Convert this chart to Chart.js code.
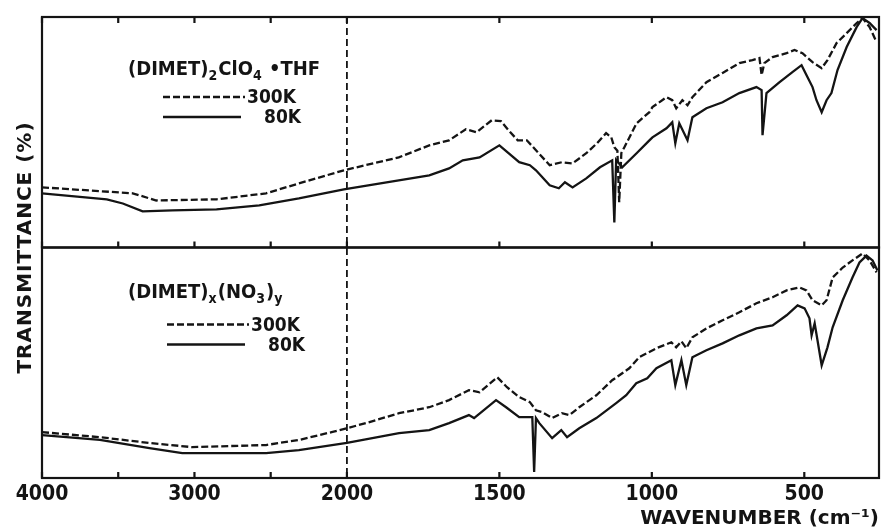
<!DOCTYPE html>
<html>
<head>
<meta charset="utf-8">
<script src="https://cdn.jsdelivr.net/npm/chart.js@4.4.1/dist/chart.umd.min.js"></script>
<style>
  html, body { margin: 0; padding: 0; background: #fff; }
  #wrap { width: 881px; height: 528px; }
</style>
</head>
<body>
<div id="wrap"><canvas id="irChart" width="881" height="528"></canvas></div>
<script>
// (DIMET)2ClO4 . THF  -- wavenumber (cm-1) / transmittance (arb., 0-100 per panel)
const topWave300 = [4000, 3405, 3250, 2855, 2530, 2315, 2020, 1830, 1730, 1665, 1610, 1575, 1525, 1495, 1470, 1440, 1410, 1380, 1335, 1295, 1260, 1215, 1180, 1150, 1133, 1123, 1113, 1107, 1100, 1090, 1050, 1008, 998, 952, 933, 920, 900, 883, 867, 821, 768, 713, 670, 647, 640, 631, 604, 558, 532, 506, 473, 443, 424, 394, 361, 328, 309, 286, 263];
const topT300 = [26.1, 23.5, 20.4, 20.9, 23.5, 27.8, 33.5, 39.1, 44.3, 46.5, 51.3, 50.0, 55.2, 54.8, 50.9, 46.5, 46.5, 42.2, 35.7, 37.0, 36.5, 40.9, 45.2, 49.6, 47.8, 43.5, 42, 19.6, 41, 43.5, 53.9, 58.7, 60.9, 65.2, 63.9, 60.4, 63.9, 61.7, 65.2, 71.7, 75.7, 80.0, 81.3, 82.2, 74.8, 80.0, 82.6, 84.3, 85.7, 84.3, 80.4, 77.8, 81.3, 88.7, 93.0, 97.4, 99.5, 95.7, 89.1];

const topWave80 = [4000, 3575, 3470, 3340, 3145, 2855, 2575, 2315, 2020, 1830, 1730, 1665, 1620, 1565, 1500, 1470, 1435, 1400, 1380, 1335, 1305, 1285, 1260, 1215, 1170, 1130, 1123, 1117, 1097, 1050, 1008, 998, 952, 933, 923, 910, 883, 867, 821, 768, 713, 657, 640, 637, 624, 581, 539, 509, 493, 473, 460, 443, 427, 411, 391, 361, 328, 309, 286, 263];
const topT80 = [23.5, 20.9, 19.1, 15.7, 16.1, 16.5, 18.3, 21.3, 25.2, 29.1, 31.3, 34.3, 37.8, 39.1, 44.3, 40.9, 37.0, 35.7, 33.5, 27.0, 25.7, 28.3, 26.1, 30.0, 34.8, 37.8, 10.9, 38, 34.8, 40.9, 46.5, 47.8, 51.7, 54.3, 45.2, 53.9, 46.5, 56.5, 60.4, 63.0, 67.0, 69.6, 68.3, 48.7, 67.0, 71.7, 76.1, 79.1, 74.8, 69.6, 63.9, 58.7, 63.9, 67.0, 77.0, 87.0, 95.7, 99.5, 97.4, 94.3];

// (DIMET)x(NO3)y
const botWave300 = [4000, 3620, 3295, 3015, 2530, 2315, 2100, 2000, 1938, 1829, 1730, 1665, 1600, 1565, 1507, 1475, 1435, 1400, 1380, 1360, 1327, 1295, 1270, 1238, 1182, 1130, 1074, 1041, 985, 936, 920, 903, 887, 867, 821, 768, 713, 657, 604, 558, 516, 493, 473, 443, 427, 407, 374, 342, 309, 286, 263];
const botT300 = [19.9, 17.7, 15.2, 13.4, 14.3, 16.5, 19.9, 21.6, 23.8, 28.1, 30.7, 33.8, 38.1, 37.2, 43.7, 39.4, 35.1, 32.9, 29.4, 28.6, 26.0, 28.1, 27.3, 30.7, 35.9, 42.4, 47.6, 52.4, 56.3, 58.9, 56.7, 59.3, 56.3, 61.0, 64.9, 68.4, 71.9, 75.8, 78.4, 81.4, 82.7, 81.4, 77.1, 74.9, 77.1, 87.0, 91.3, 94.4, 97.4, 94.4, 89.2];

const botWave80 = [4000, 3620, 3295, 3080, 2530, 2315, 2000, 1829, 1730, 1665, 1600, 1583, 1511, 1478, 1435, 1392, 1386, 1380, 1369, 1327, 1297, 1278, 1238, 1182, 1117, 1084, 1051, 1015, 985, 936, 923, 903, 887, 867, 821, 768, 713, 657, 604, 558, 522, 499, 483, 476, 466, 443, 424, 407, 374, 342, 319, 296, 276, 260];
const botT80 = [18.6, 16.5, 13.0, 10.8, 10.8, 12.1, 15.2, 19.5, 20.8, 23.8, 27.3, 26.0, 33.8, 30.7, 26.4, 26.4, 2.6, 26.0, 23.8, 17.3, 20.8, 17.7, 21.6, 26.0, 32.5, 35.9, 41.1, 43.3, 47.6, 51.1, 40.3, 51.1, 40.3, 52.4, 55.4, 58.4, 61.9, 64.9, 66.2, 70.6, 74.9, 73.6, 69.3, 61.9, 67.1, 48.9, 56.7, 65.4, 77.1, 87.0, 93.5, 96.5, 94.4, 90.0];

const tickLabels = [4000, 3000, 2000, 1500, 1000, 500];
const minorTicks = [3500, 2500];
const breakWave = 2000; // spectrum scale doubles below 2000 cm-1
const lastWave = 255;

const ink = "#141414";
const narrow = "'DejaVu Sans Condensed', 'DejaVu Sans', sans-serif";
const wide = "'DejaVu Sans', sans-serif";

// wavenumber <-> position on the (piecewise) axis
const toPos = (w) => (w >= breakWave ? (4000 - w) / 2 : 1000 + (breakWave - w));
const toWave = (p) => (p <= 1000 ? 4000 - p * 2 : breakWave - (p - 1000));
const pts = (waves, vals) => waves.map((w, i) => ({ x: toPos(w), y: vals[i] }));

const line = (label, data, axis, dashed) => ({
  label,
  data,
  yAxisID: axis,
  borderColor: ink,
  borderWidth: 2.3,
  borderDash: dashed ? [7, 3] : [],
  pointRadius: 0,
  tension: 0,
  fill: false,
});

// text with sub-scripts, runs like ["(DIMET)", ["2"], "ClO"]
const drawRuns = (ctx, x, y, runs, size) => {
  runs.forEach((r) => {
    const sub = Array.isArray(r);
    const t = sub ? r[0] : r;
    ctx.font = `bold ${sub ? Math.round(size * 0.72) : size}px ${narrow}`;
    ctx.fillText(t, x, sub ? y + 5 : y);
    x += ctx.measureText(t).width + (sub ? 1 : 0);
  });
};

const legendRows = (ctx, left, y, size) => {
  ctx.lineWidth = 2.3;
  ctx.setLineDash([7, 3]);
  ctx.beginPath(); ctx.moveTo(left, y); ctx.lineTo(left + 82, y); ctx.stroke();
  ctx.setLineDash([]);
  ctx.beginPath(); ctx.moveTo(left, y + 20); ctx.lineTo(left + 78, y + 20); ctx.stroke();
  ctx.font = `bold ${size}px ${narrow}`;
  ctx.fillText("300K", left + 84, y + 6);
  ctx.fillText("80K", left + 101, y + 26);
};

const panelFrame = {
  id: "panelFrame",
  afterDatasetsDraw(chart) {
    const { ctx, chartArea: { left, right } } = chart;
    const xs = chart.scales.x;
    const top = chart.scales.yTop;
    const bot = chart.scales.yBottom;
    ctx.save();
    ctx.strokeStyle = ink;
    ctx.fillStyle = ink;
    ctx.lineWidth = 2.2;
    [top, bot].forEach((p) => ctx.strokeRect(left, p.top, right - left, p.bottom - p.top));

    // inward tick marks
    ctx.beginPath();
    xs.ticks.forEach((t) => {
      const px = xs.getPixelForValue(t.value);
      ctx.moveTo(px, top.top); ctx.lineTo(px, top.top + 6);
      ctx.moveTo(px, top.bottom); ctx.lineTo(px, top.bottom - 6);
      ctx.moveTo(px, bot.bottom); ctx.lineTo(px, bot.bottom - 6);
    });
    ctx.stroke();

    // scale change marker at 2000
    const xb = xs.getPixelForValue(toPos(breakWave));
    ctx.setLineDash([7, 4]);
    ctx.lineWidth = 1.8;
    ctx.beginPath(); ctx.moveTo(xb, top.top); ctx.lineTo(xb, bot.bottom); ctx.stroke();
    ctx.setLineDash([]);

    // y title
    ctx.save();
    ctx.translate(26, (top.top + bot.bottom) / 2);
    ctx.rotate(-Math.PI / 2);
    ctx.textAlign = "center";
    ctx.textBaseline = "middle";
    ctx.font = `bold 20px ${wide}`;
    ctx.letterSpacing = "1px";
    ctx.fillText("TRANSMITTANCE (%)", 0, 0);
    ctx.restore();

    // panel captions
    ctx.textBaseline = "alphabetic";
    drawRuns(ctx, 128, top.top + 58, ["(DIMET)", ["2"], "ClO", ["4"], " \u2022THF"], 20);
    legendRows(ctx, 163, top.top + 80, 19);
    drawRuns(ctx, 128, bot.top + 50, ["(DIMET)", ["x"], "(NO", ["3"], ")", ["y"]], 20);
    legendRows(ctx, 167, bot.top + 77, 19);
    ctx.restore();
  },
};

const hiddenY = {
  type: "linear",
  position: "left",
  stack: "panels",
  stackWeight: 1,
  min: 0,
  max: 100,
  ticks: { display: false },
  grid: { display: false },
  border: { display: false },
  afterFit: (s) => { s.width = 0; },
};

new Chart(document.getElementById("irChart"), {
  type: "line",
  data: {
    datasets: [
      line("300K", pts(topWave300, topT300), "yTop", true),
      line("80K", pts(topWave80, topT80), "yTop", false),
      line("300K", pts(botWave300, botT300), "yBottom", true),
      line("80K", pts(botWave80, botT80), "yBottom", false),
    ],
  },
  options: {
    responsive: false,
    animation: false,
    layout: { padding: { left: 42, right: 2, top: 17, bottom: 0 } },
    plugins: { legend: { display: false }, tooltip: { enabled: false } },
    scales: {
      x: {
        type: "linear",
        min: 0,
        max: toPos(lastWave),
        afterBuildTicks: (s) => {
          s.ticks = [...tickLabels, ...minorTicks].map((w) => ({ value: toPos(w) }));
        },
        afterFit: (s) => { s.height = 50; },
        ticks: {
          autoSkip: false,
          maxRotation: 0,
          padding: 4,
          color: ink,
          font: { family: narrow, size: 21, weight: "bold" },
          callback: (v) => {
            const w = Math.round(toWave(v));
            return tickLabels.includes(w) ? String(w) : "";
          },
        },
        grid: { display: false, drawTicks: false },
        border: { display: false },
        title: {
          display: true,
          text: "WAVENUMBER (cm\u207B\u00B9)",
          align: "end",
          color: ink,
          padding: { top: 0, bottom: -3 },
          font: { family: wide, size: 20, weight: "bold" },
        },
      },
      // stacked panels: first listed ends up lowest
      yBottom: { ...hiddenY },
      yTop: { ...hiddenY },
    },
  },
  plugins: [panelFrame],
});
</script>
</body>
</html>
